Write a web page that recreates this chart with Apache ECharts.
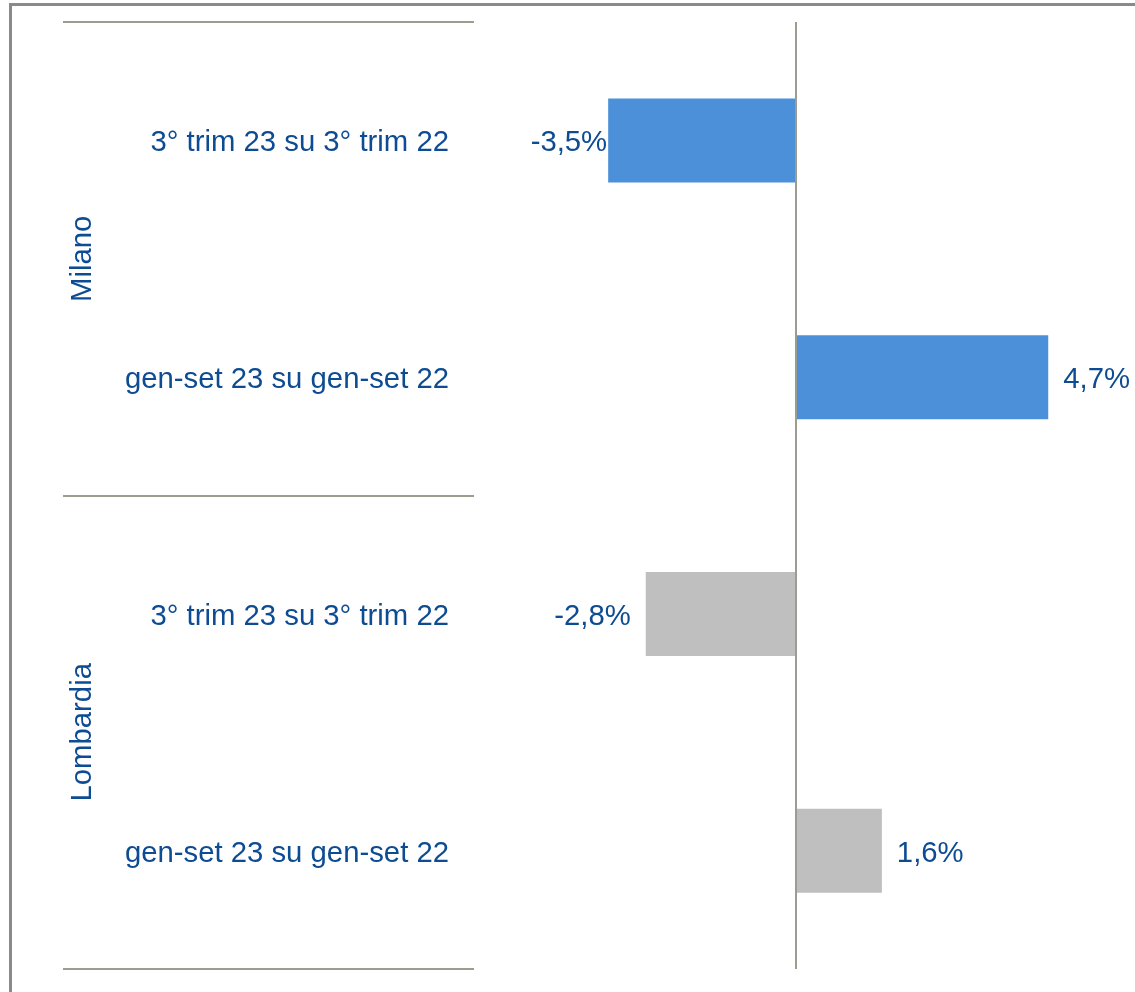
<!DOCTYPE html>
<html>
<head>
<meta charset="utf-8">
<script src="https://cdn.jsdelivr.net/npm/echarts@6/dist/echarts.min.js"></script>
<style>
  html, body { margin: 0; padding: 0; background: #ffffff; }
  #chart { width: 1135px; height: 992px; }
</style>
</head>
<body>
<div id="chart"></div>
<script>
// Variazione percentuale: Milano e Lombardia
const categories = [
  '3° trim 23 su 3° trim 22',
  'gen-set 23 su gen-set 22',
  '3° trim 23 su 3° trim 22',
  'gen-set 23 su gen-set 22'
];
const groups = ['Milano', 'Lombardia'];
const groupOfCategory = [0, 0, 1, 1];
const values = [-3.5, 4.7, -2.8, 1.6];
const groupColors = ['#4b90d9', '#bfbfbf'];

const textColor = '#0d4c92';
const ruleColor = '#9c9c91';
const fontFamily = '"Liberation Sans", Arial, Helvetica, sans-serif';
const fontSize = 29.3;

// text style nudged slightly below the band centre
const lowered = {
  t: {
    color: textColor,
    fontSize: fontSize,
    fontFamily: fontFamily,
    padding: [6, 0, 0, 0]
  }
};

function fmt(v) {
  return v.toFixed(1).replace('.', ',') + '%';
}

const seriesData = values.map(function (v, i) {
  return {
    value: v,
    itemStyle: { color: groupColors[groupOfCategory[i]] },
    label: {
      position: v < 0 ? 'left' : 'right',
      distance: (v < 0 && Math.abs(v) > 3) ? 1 : 15
    }
  };
});

const chart = echarts.init(document.getElementById('chart'), null, { renderer: 'canvas' });

chart.setOption({
  backgroundColor: '#ffffff',
  animation: false,
  grid: { left: 474, right: 17, top: 22, bottom: 23, containLabel: false },
  xAxis: {
    type: 'value',
    min: -6,
    max: 6,
    show: false,
    splitLine: { show: false }
  },
  yAxis: [
    {
      type: 'category',
      data: categories,
      inverse: true,
      position: 'left',
      axisLine: { show: false },
      axisTick: { show: false },
      splitLine: { show: false },
      axisLabel: {
        margin: 25,
        color: textColor,
        fontSize: fontSize,
        fontFamily: fontFamily,
        formatter: function (v) { return '{t|' + v + '}'; },
        rich: lowered
      }
    },
    {
      type: 'category',
      data: groups,
      inverse: true,
      position: 'left',
      axisLine: { show: false },
      splitLine: { show: false },
      axisTick: {
        show: true,
        inside: false,
        length: 411,
        lineStyle: { color: ruleColor, width: 2 }
      },
      axisLabel: {
        rotate: 90,
        margin: 391,
        align: 'center',
        verticalAlign: 'middle',
        color: textColor,
        fontSize: fontSize,
        fontFamily: fontFamily
      }
    }
  ],
  graphic: [
    {
      type: 'rect',
      silent: true,
      shape: { x: 10.5, y: 4.5, width: 1300, height: 1200 },
      style: { fill: 'none', stroke: '#8a8a8a', lineWidth: 3 }
    }
  ],
  series: [
    {
      type: 'bar',
      yAxisIndex: 0,
      barWidth: 84,
      data: seriesData,
      label: {
        show: true,
        color: textColor,
        fontSize: fontSize,
        fontFamily: fontFamily,
        formatter: function (p) { return '{t|' + fmt(p.value) + '}'; },
        rich: lowered
      },
      markLine: {
        silent: true,
        symbol: ['none', 'none'],
        label: { show: false },
        lineStyle: { color: ruleColor, width: 2, type: 'solid' },
        data: [{ xAxis: 0 }]
      }
    }
  ]
});
</script>
</body>
</html>
